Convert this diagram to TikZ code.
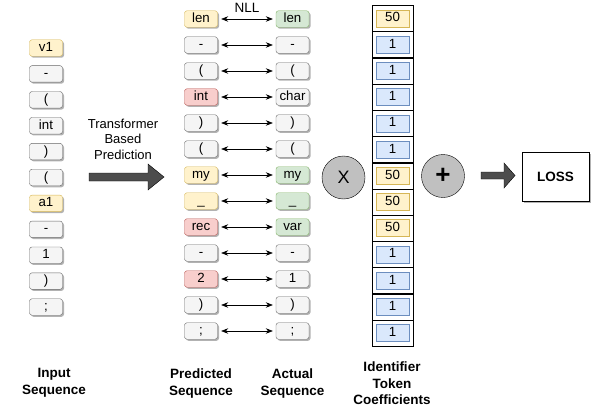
\documentclass[tikz,border=0pt]{standalone}
\usepackage{fontspec}
\setmainfont{Liberation Sans}
\usetikzlibrary{shadows,arrows.meta}
\definecolor{ylwF}{HTML}{FFF2CC}\definecolor{ylwD}{HTML}{D6B656}
\definecolor{grnF}{HTML}{D5E8D4}\definecolor{grnD}{HTML}{82B366}
\definecolor{redF}{HTML}{F8CECC}\definecolor{redD}{HTML}{B85450}
\definecolor{gryF}{HTML}{F5F5F5}\definecolor{gryD}{HTML}{666666}
\definecolor{bluF}{HTML}{DAE8FC}\definecolor{bluD}{HTML}{6C8EBF}
\definecolor{circF}{HTML}{C0C0C0}
\definecolor{arrF}{HTML}{4D4D4D}
\newcommand{\LP}{(}
\newcommand{\RP}{)}
\begin{document}
\begin{tikzpicture}[x=1pt,y=-1pt,
  tok/.style={draw=gryD, fill=gryF, rounded corners=2.5pt, minimum width=33pt, minimum height=16.5pt,
    inner sep=0pt, text height=9.5pt, text depth=2.5pt, font=\fontsize{13.3}{15}\selectfont,
    drop shadow={shadow xshift=1.5pt, shadow yshift=-1.5pt, fill=black, opacity=0.3}},
  Y/.style={draw=ylwD, fill=ylwF},
  G/.style={draw=grnD, fill=grnF},
  R/.style={draw=redD, fill=redF},
  N/.style={},
  coefbox/.style={draw=bluD, fill=bluF, minimum width=33pt, minimum height=17pt, inner sep=0pt,
    text height=9.5pt, text depth=2.5pt, font=\fontsize{13.3}{15}\selectfont},
  cellbox/.style={draw=black, minimum width=41pt, minimum height=26pt, inner sep=0pt},
  biarrow/.style={{Stealth[length=7pt,width=5.5pt]}-{Stealth[length=7pt,width=5.5pt]}, semithick, shorten <=3.5pt, shorten >=3pt},
  lbl/.style={font=\bfseries\fontsize{13.5}{17}\selectfont, align=center},
  blockarrow/.style={draw=black, fill=arrF}
]
\useasboundingbox (0,0) rectangle (592,412);

% Input sequence
\foreach \t/\s [count=\i from 0] in {v1/Y,-/N,\LP/N,int/N,\RP/N,\LP/N,a1/Y,-/N,1/N,\RP/N,;/N}
  \node[tok,\s] (in\i) at (46,48+25.9*\i) {\t};

% Predicted sequence
\foreach \t/\s [count=\i from 0] in {len/Y,-/N,\LP/N,int/R,\RP/N,\LP/N,my/Y,\_/Y,rec/R,-/N,2/R,\RP/N,;/N}
  \node[tok,\s] (p\i) at (201,19+26*\i) {\t};

% Actual sequence
\foreach \t/\s [count=\i from 0] in {len/G,-/N,\LP/N,char/N,\RP/N,\LP/N,my/G,\_/G,var/G,-/N,1/N,\RP/N,;/N}
  \node[tok,\s] (a\i) at (292.5,19+26*\i) {\t};

\foreach \i in {0,...,12}
  \draw[biarrow] (p\i.east) -- (a\i.west);

\node[font=\fontsize{13.5}{15}\selectfont] (nll) at (247,7.5) {NLL};

% Coefficients column
\foreach \v/\s [count=\i from 0] in {50/Y,1/N,1/N,1/N,1/N,1/N,50/Y,50/Y,50/Y,1/N,1/N,1/N,1/N}{
  \node[cellbox] (cell\i) at (392.5,18.5+26.2*\i) {};
  \node[coefbox,\s] (c\i) at (392.5,18.5+26.2*\i) {\v};
}

% Transformer arrow
\node[font=\fontsize{13}{15.5}\selectfont, align=center] (tbp) at (123,139) {Transformer\\Based\\Prediction};
\draw[blockarrow] (89,173) -- (148,173) -- (148,164) -- (164,177) -- (148,190) -- (148,181) -- (89,181) -- cycle;

% Operators
\node[circle, draw=black, fill=circF, minimum size=43pt, inner sep=0pt, font=\fontsize{18}{18}\selectfont] (mul) at (343.5,177.5) {X};
\node[circle, draw=black, fill=circF, minimum size=43pt, inner sep=0pt, font=\bfseries\fontsize{26}{26}\selectfont] (plus) at (443,176) {+};

\draw[blockarrow] (481,172) -- (504,172) -- (504,163) -- (515,175.5) -- (504,188) -- (504,179) -- (481,179) -- cycle;

\node[draw=black, fill=white, minimum width=67pt, minimum height=49pt, font=\bfseries\fontsize{13.5}{15}\selectfont,
  drop shadow={shadow xshift=1.5pt, shadow yshift=-1.5pt, fill=black, opacity=0.3}] (loss) at (555.5,176.5) {LOSS};

% Bottom labels
\node[lbl] (linput) at (54,382.5) {Input\\Sequence};
\node[lbl] (lpred) at (201,383.5) {Predicted\\Sequence};
\node[lbl] (lact) at (292.5,383.5) {Actual\\Sequence};
\node[lbl, font=\bfseries\fontsize{13.5}{16.5}\selectfont] (lcoef) at (392,383.5) {Identifier\\Token\\Coefficients};
\end{tikzpicture}
\end{document}
